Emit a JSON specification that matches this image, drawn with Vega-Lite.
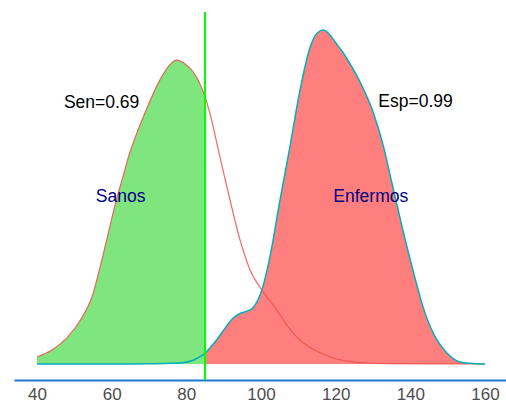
{
  "$schema": "https://vega.github.io/schema/vega-lite/v6.json",
  "width": 492,
  "height": 368,
  "autosize": "none",
  "padding": {"left": 14, "top": 12, "right": 0, "bottom": 23},
  "config": {"view": {"stroke": null}, "font": "Liberation Sans"},
  "datasets": {
    "dens": [
      {"g": "Sanos", "x": 40, "y": 0.021},
      {"g": "Sanos", "x": 44, "y": 0.042},
      {"g": "Sanos", "x": 48, "y": 0.078},
      {"g": "Sanos", "x": 52, "y": 0.138},
      {"g": "Sanos", "x": 54.7, "y": 0.2},
      {"g": "Sanos", "x": 56.9, "y": 0.29},
      {"g": "Sanos", "x": 59.1, "y": 0.392},
      {"g": "Sanos", "x": 61, "y": 0.48},
      {"g": "Sanos", "x": 63, "y": 0.56},
      {"g": "Sanos", "x": 64.5, "y": 0.62},
      {"g": "Sanos", "x": 66.7, "y": 0.69},
      {"g": "Sanos", "x": 69.4, "y": 0.765},
      {"g": "Sanos", "x": 72.9, "y": 0.85},
      {"g": "Sanos", "x": 75.5, "y": 0.895},
      {"g": "Sanos", "x": 77.4, "y": 0.91},
      {"g": "Sanos", "x": 79.5, "y": 0.9},
      {"g": "Sanos", "x": 81.8, "y": 0.875},
      {"g": "Sanos", "x": 83.5, "y": 0.843},
      {"g": "Sanos", "x": 85, "y": 0.8},
      {"g": "Sanos", "x": 86.3, "y": 0.751},
      {"g": "Sanos", "x": 89, "y": 0.62},
      {"g": "Sanos", "x": 91.7, "y": 0.491},
      {"g": "Sanos", "x": 94.4, "y": 0.371},
      {"g": "Sanos", "x": 97.1, "y": 0.281},
      {"g": "Sanos", "x": 100.2, "y": 0.222},
      {"g": "Sanos", "x": 104.2, "y": 0.162},
      {"g": "Sanos", "x": 107, "y": 0.115},
      {"g": "Sanos", "x": 110.4, "y": 0.072},
      {"g": "Sanos", "x": 115, "y": 0.038},
      {"g": "Sanos", "x": 119.3, "y": 0.018},
      {"g": "Sanos", "x": 124, "y": 0.007},
      {"g": "Sanos", "x": 128.4, "y": 0.003},
      {"g": "Sanos", "x": 135, "y": 0.001},
      {"g": "Sanos", "x": 145, "y": 0.0003},
      {"g": "Sanos", "x": 160, "y": 0},
      {"g": "Enfermos", "x": 40, "y": 0},
      {"g": "Enfermos", "x": 55, "y": 0},
      {"g": "Enfermos", "x": 65, "y": 0.0002},
      {"g": "Enfermos", "x": 72, "y": 0.0008},
      {"g": "Enfermos", "x": 76, "y": 0.002},
      {"g": "Enfermos", "x": 79, "y": 0.004},
      {"g": "Enfermos", "x": 82, "y": 0.012},
      {"g": "Enfermos", "x": 84, "y": 0.024},
      {"g": "Enfermos", "x": 85, "y": 0.032},
      {"g": "Enfermos", "x": 86.5, "y": 0.05},
      {"g": "Enfermos", "x": 88.1, "y": 0.072},
      {"g": "Enfermos", "x": 90.3, "y": 0.106},
      {"g": "Enfermos", "x": 92.5, "y": 0.137},
      {"g": "Enfermos", "x": 94.5, "y": 0.152},
      {"g": "Enfermos", "x": 96.2, "y": 0.158},
      {"g": "Enfermos", "x": 97.8, "y": 0.168},
      {"g": "Enfermos", "x": 99.2, "y": 0.192},
      {"g": "Enfermos", "x": 100.4, "y": 0.228},
      {"g": "Enfermos", "x": 102.4, "y": 0.321},
      {"g": "Enfermos", "x": 105.1, "y": 0.491},
      {"g": "Enfermos", "x": 107.8, "y": 0.653},
      {"g": "Enfermos", "x": 110.4, "y": 0.817},
      {"g": "Enfermos", "x": 113.1, "y": 0.946},
      {"g": "Enfermos", "x": 115, "y": 0.99},
      {"g": "Enfermos", "x": 116.7, "y": 1.0},
      {"g": "Enfermos", "x": 118.5, "y": 0.985},
      {"g": "Enfermos", "x": 120, "y": 0.962},
      {"g": "Enfermos", "x": 122, "y": 0.932},
      {"g": "Enfermos", "x": 124.3, "y": 0.89},
      {"g": "Enfermos", "x": 126.5, "y": 0.845},
      {"g": "Enfermos", "x": 130, "y": 0.755},
      {"g": "Enfermos", "x": 132.7, "y": 0.656},
      {"g": "Enfermos", "x": 135, "y": 0.545},
      {"g": "Enfermos", "x": 138, "y": 0.401},
      {"g": "Enfermos", "x": 140.7, "y": 0.281},
      {"g": "Enfermos", "x": 143.4, "y": 0.171},
      {"g": "Enfermos", "x": 146.1, "y": 0.093},
      {"g": "Enfermos", "x": 149.8, "y": 0.033},
      {"g": "Enfermos", "x": 153.3, "y": 0.006},
      {"g": "Enfermos", "x": 156, "y": 0.002},
      {"g": "Enfermos", "x": 160, "y": 0}
    ],
    "labels": [
      {"x": 57.3, "y": 0.782, "t": "Sen=0.69", "c": "black"},
      {"x": 141.4, "y": 0.783, "t": "Esp=0.99", "c": "black"},
      {"x": 62.4, "y": 0.501, "t": "Sanos", "c": "navy"},
      {"x": 129.4, "y": 0.499, "t": "Enfermos", "c": "navy"}
    ],
    "cut": [{"x": 85}]
  },
  "layer": [
    {
      "data": {"name": "dens"},
      "transform": [{"filter": "datum.g === 'Sanos' && datum.x <= 85"}],
      "mark": {"type": "area", "interpolate": "monotone", "color": "#7FE57F"},
      "encoding": {
        "x": {"field": "x", "type": "quantitative", "scale": {"domain": [33.84, 165.63], "nice": false, "zero": false}, "axis": {"values": [40, 60, 80, 100, 120, 140, 160], "grid": false, "ticks": false, "tickSize": 0, "domainColor": "#1F78D0", "domainWidth": 2, "labelColor": "#4D4D4D", "labelFontSize": 17, "labelPadding": 6, "labelFont": "Liberation Sans", "title": null}},
        "y": {"field": "y", "type": "quantitative", "scale": {"domain": [-0.0479, 1.0539], "nice": false, "zero": false}, "axis": null},
        "y2": {"datum": 0}
      }
    },
    {
      "data": {"name": "dens"},
      "transform": [{"filter": "datum.g === 'Enfermos' && datum.x >= 85"}],
      "mark": {"type": "area", "interpolate": "monotone", "color": "#FF7F7F"},
      "encoding": {
        "x": {"field": "x", "type": "quantitative"},
        "y": {"field": "y", "type": "quantitative"},
        "y2": {"datum": 0}
      }
    },
    {
      "data": {"name": "dens"},
      "transform": [{"filter": "datum.g === 'Sanos'"}],
      "mark": {"type": "line", "interpolate": "monotone", "color": "#F0504A", "strokeWidth": 1.2, "opacity": 0.85},
      "encoding": {
        "x": {"field": "x", "type": "quantitative"},
        "y": {"field": "y", "type": "quantitative"}
      }
    },
    {
      "data": {"name": "dens"},
      "transform": [{"filter": "datum.g === 'Enfermos'"}],
      "mark": {"type": "line", "interpolate": "monotone", "color": "#00AFBA", "strokeWidth": 1.5},
      "encoding": {
        "x": {"field": "x", "type": "quantitative"},
        "y": {"field": "y", "type": "quantitative"}
      }
    },
    {
      "data": {"name": "cut"},
      "mark": {"type": "rule", "color": "#00FF00", "strokeWidth": 2},
      "encoding": {
        "x": {"field": "x", "type": "quantitative"}
      }
    },
    {
      "data": {"name": "labels"},
      "mark": {"type": "text", "fontSize": 17.5, "font": "Liberation Sans", "align": "center", "baseline": "middle"},
      "encoding": {
        "x": {"field": "x", "type": "quantitative"},
        "y": {"field": "y", "type": "quantitative"},
        "text": {"field": "t"},
        "color": {"field": "c", "type": "nominal", "scale": null}
      }
    }
  ]
}
